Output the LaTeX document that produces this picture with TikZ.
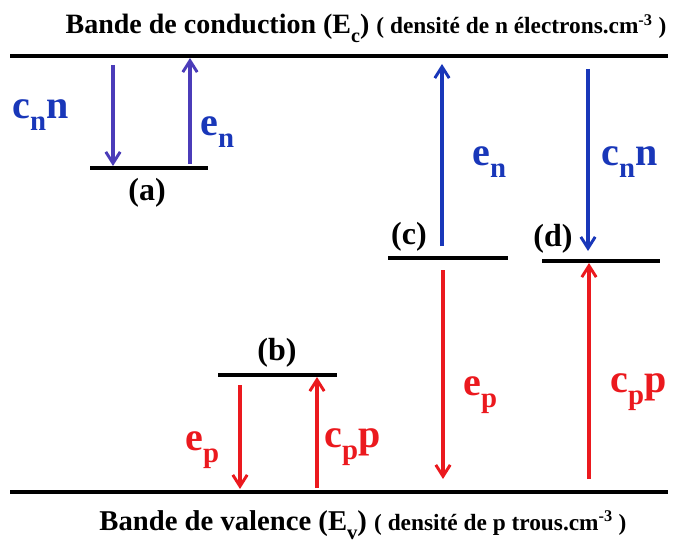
\documentclass[tikz,border=0pt]{standalone}
\usepackage{fontspec}
\setmainfont{Liberation Serif}
\usepackage{graphicx}
\usetikzlibrary{arrows.meta}
\definecolor{elecblue}{RGB}{25,55,185}
\definecolor{capblue}{RGB}{75,60,185}
\definecolor{holered}{RGB}{235,25,30}
\newcommand{\lowsub}[1]{\raisebox{-0.32em}{\scalebox{0.72}{#1}}}
\newcommand{\smallpart}[1]{{\fontsize{17.5}{17.5}\selectfont #1}}
\tikzset{
  band/.style={line width=3pt, black},
  level/.style={line width=2.3pt, black},
  trans/.style={line width=2.3pt, -{Straight Barb[length=3mm, width=3.8mm, line width=2.2pt]}},
  rate/.style={font=\fontsize{30}{30}\selectfont\bfseries, anchor=base west, inner sep=0pt},
  tag/.style={font=\fontsize{24}{24}\selectfont\bfseries, inner sep=0pt},
  title/.style={font=\fontsize{21}{21}\selectfont\bfseries, inner sep=0pt, anchor=base}
}
\begin{document}
\begin{tikzpicture}[x=0.75pt, y=-0.75pt]
\useasboundingbox (0,0) rectangle (678,542);

% Bands
\coordinate (ecL) at (10,56);
\coordinate (ecR) at (668,56);
\coordinate (evL) at (10,492);
\coordinate (evR) at (668,492);
\draw [band] (ecL) -- (ecR);
\draw [band] (evL) -- (evR);
\node (ectitle) [title] at (366,34) {Bande de conduction (E\lowsub{c}) \smallpart{( densité de n électrons.cm\textsuperscript{-3} )}};
\node (evtitle) [title, font=\fontsize{21.5}{21.5}\selectfont\bfseries] at (363,530) {Bande de valence (E\lowsub{v}) \smallpart{( densité de p trous.cm\textsuperscript{-3} )}};

% Level (a)
\coordinate (aL) at (90,168);
\coordinate (aR) at (208,168);
\draw [level] (aL) -- (aR);
\node (atag) [tag] at (147,193) {(a)};
\coordinate (a1top) at (113,65);
\coordinate (a1bot) at (113,166);
\coordinate (a2bot) at (190,164);
\coordinate (a2top) at (190,58);
\draw [trans, capblue] (a1top) -- (a1bot);
\draw [trans, capblue] (a2bot) -- (a2top);
\node (acn) [rate, elecblue] at (12,118) {c\lowsub{n}n};
\node (aen) [rate, elecblue] at (200,135) {e\lowsub{n}};

% Level (b)
\coordinate (bL) at (218,375);
\coordinate (bR) at (337,375);
\draw [level] (bL) -- (bR);
\node (btag) [tag] at (277,353) {(b)};
\coordinate (b1top) at (240,385);
\coordinate (b1bot) at (240,489);
\coordinate (b2bot) at (317,488);
\coordinate (b2top) at (317,377);
\draw [trans, holered] (b1top) -- (b1bot);
\draw [trans, holered] (b2bot) -- (b2top);
\node (bep) [rate, holered] at (185,450) {e\lowsub{p}};
\node (bcp) [rate, holered] at (324,447) {c\lowsub{p}p};

% Level (c)
\coordinate (cL) at (388,258);
\coordinate (cR) at (508,258);
\draw [level] (cL) -- (cR);
\node (ctag) [tag] at (409,237) {(c)};
\coordinate (c1bot) at (442,246);
\coordinate (c1top) at (442,64);
\coordinate (c2top) at (443,270);
\coordinate (c2bot) at (443,479);
\draw [trans, elecblue] (c1bot) -- (c1top);
\draw [trans, holered] (c2top) -- (c2bot);
\node (cen) [rate, elecblue] at (472,165) {e\lowsub{n}};
\node (cep) [rate, holered] at (463,395) {e\lowsub{p}};

% Level (d)
\coordinate (dL) at (542,261);
\coordinate (dR) at (660,261);
\draw [level] (dL) -- (dR);
\node (dtag) [tag] at (553,239) {(d)};
\coordinate (d1top) at (588,69);
\coordinate (d1bot) at (588,251);
\coordinate (d2bot) at (589,479);
\coordinate (d2top) at (589,263);
\draw [trans, elecblue] (d1top) -- (d1bot);
\draw [trans, holered] (d2bot) -- (d2top);
\node (dcn) [rate, elecblue] at (601,165) {c\lowsub{n}n};
\node (dcp) [rate, holered] at (610,392) {c\lowsub{p}p};

\end{tikzpicture}
\end{document}
